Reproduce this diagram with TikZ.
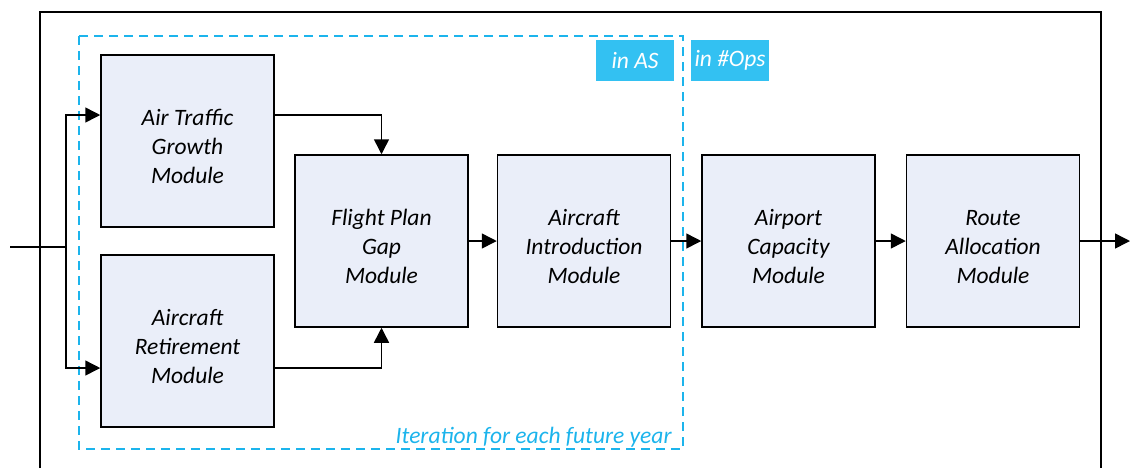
\documentclass[tikz,border=0pt]{standalone}
\usepackage{fontspec}
\setmainfont{Carlito}
\usepackage{tikz}
\usetikzlibrary{positioning,arrows.meta}

\definecolor{boxfill}{HTML}{EAEEF9}
\definecolor{tagcyan}{HTML}{33C1F2}
\definecolor{loopcyan}{HTML}{1CB4EC}

\begin{document}
\begin{tikzpicture}[x=0.5pt,y=-0.5pt,
        every node/.style={font=\itshape\fontsize{11.75}{14.5}\selectfont},
        module/.style={draw,line width=0.75pt,fill=boxfill,minimum width=86.5pt,
            minimum height=86pt,inner sep=0pt,align=center,text height=42pt,text depth=0pt},
        tag/.style={fill=tagcyan,text=white,minimum width=39pt,minimum height=20.5pt,inner sep=0pt},
        arr/.style={-{Triangle[length=7.5pt,width=7.5pt]},line width=0.75pt}]
        \useasboundingbox (0,0) rectangle (1130,468);
        % outer frame
        \draw[line width=1pt] (40,468) |- (1101,12) -- (1101,468);
        % iteration loop
        \draw[loopcyan,line width=1.25pt,dash pattern=on 4.5pt off 3pt] (79,36) rectangle (683,449);
        \node[text=loopcyan,anchor=base east,inner sep=0pt] (iter) at (672,443) {Iteration for each future year};
        \node[tag] (inas) at (635,60.5) {in AS};
        \node[tag] (inops) at (730,60) {in \#Ops};

        % modules
        \node[module] (atg) at (187.5,141) {Air Traffic\\Growth\\Module};
        \node[module] (arm) at (187.5,341) {Aircraft\\Retirement\\Module};
        \node[module] (fpg) at (381.5,241) {Flight Plan\\Gap\\Module};
        \node[module,right=14pt of fpg] (aim) {Aircraft\\Introduction\\Module};
        \node[module,right=15pt of aim] (acm) {Airport\\Capacity\\Module};
        \node[module,right=15pt of acm] (ram) {Route\\Allocation\\Module};

        \coordinate (in) at (10,247);
        \coordinate (split) at (66,247);
        \coordinate (out) at (1130,241);

        \draw[line width=0.75pt] (in) -- (split);
        \draw[arr] (split) |- ([yshift=13pt]atg.west);
        \draw[arr] (split) |- ([yshift=-13.5pt]arm.west);
        \draw[arr] ([yshift=13pt]atg.east) -| (fpg.north);
        \draw[arr] ([yshift=-13.5pt]arm.east) -| (fpg.south);
        \foreach \u / \v in {fpg/aim,aim/acm,acm/ram,ram/out}
            \draw[arr] (\u) -- (\v);
    \end{tikzpicture}
\end{document}
